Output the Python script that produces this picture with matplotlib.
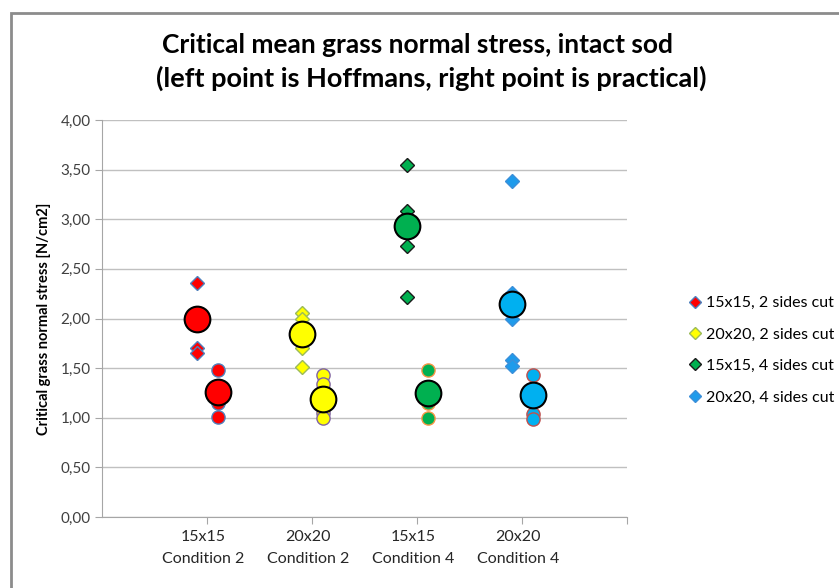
import matplotlib
matplotlib.use("Agg")
import matplotlib.pyplot as plt
from matplotlib.lines import Line2D
from matplotlib.patches import Rectangle
from matplotlib.ticker import FuncFormatter, MultipleLocator

plt.rcParams['font.family'] = ['Lato', 'DejaVu Sans']

# ---- data ----
categories = ["15x15\nCondition 2", "20x20\nCondition 2", "15x15\nCondition 4", "20x20\nCondition 4"]
category_x = [1, 2, 3, 4]
series_labels = ["15x15, 2 sides cut", "20x20, 2 sides cut", "15x15, 4 sides cut", "20x20, 4 sides cut"]

hoffmans_points = [
    [2.36, 1.70, 1.65],
    [2.06, 2.00, 1.70, 1.51],
    [3.55, 3.08, 2.73, 2.22],
    [3.39, 2.26, 2.00, 1.58, 1.52],
]
hoffmans_mean = [1.99, 1.84, 2.93, 2.15]
practical_points = [
    [1.48, 1.15, 1.01],
    [1.43, 1.34, 1.05, 1.00],
    [1.48, 1.15, 1.00],
    [1.43, 1.04, 0.99],
]
practical_mean = [1.26, 1.19, 1.25, 1.23]

# ---- styles ----
face_colors = ["#FF0000", "#FFFF00", "#00B050", "#00B0F0"]
diamond_faces = ["#FF0000", "#FFFF00", "#00B050", "#1E9BEB"]
diamond_edges = ["#4F81BD", "#9BBB59", "#1A1A1A", "#3B8FD9"]
circle_edges = ["#4F81BD", "#8064A2", "#F79646", "#C0504D"]
offset = 0.1

fig = plt.figure(figsize=(8.39, 5.88), dpi=100)
ax = fig.add_axes([102/839, 1-517/588, (627-102)/839, (517-120)/588])

for i, cx in enumerate(category_x):
    hx = cx - offset
    px = cx + offset
    ax.plot([hx]*len(hoffmans_points[i]), hoffmans_points[i], linestyle='none', marker='D',
            markersize=7.3, markerfacecolor=diamond_faces[i], markeredgecolor=diamond_edges[i],
            markeredgewidth=1.0, zorder=3)
    ax.plot([px]*len(practical_points[i]), practical_points[i], linestyle='none', marker='o',
            markersize=9.5, markerfacecolor=face_colors[i], markeredgecolor=circle_edges[i],
            markeredgewidth=1.0, zorder=3)
    ax.plot([hx], [hoffmans_mean[i]], linestyle='none', marker='o', markersize=18.5,
            markerfacecolor=face_colors[i], markeredgecolor='black', markeredgewidth=1.5, zorder=4)
    ax.plot([px], [practical_mean[i]], linestyle='none', marker='o', markersize=18.5,
            markerfacecolor=face_colors[i], markeredgecolor='black', markeredgewidth=1.5, zorder=4)

ax.set_xlim(0, 5)
ax.set_ylim(0, 4)
ax.yaxis.set_major_locator(MultipleLocator(0.5))
ax.yaxis.set_major_formatter(FuncFormatter(lambda v, p: f"{v:.2f}".replace('.', ',')))
ax.set_xticks([1, 2, 3, 4, 5])
ax.set_xticklabels([])
for cx, lab in zip(category_x, categories):
    ax.text(cx - 0.04, -0.13, lab, ha='center', va='top', fontsize=11.5, color='#262626',
            linespacing=1.75, transform=ax.transData)

ax.grid(axis='y', color='#C0C0C0', linewidth=1.0, zorder=0)
ax.set_axisbelow(True)
for s in ['top', 'right']:
    ax.spines[s].set_visible(False)
ax.spines['left'].set_color('#A6A6A6')
ax.spines['bottom'].set_color('#A6A6A6')
ax.tick_params(axis='y', length=5, color='#A6A6A6', labelsize=11, labelcolor='#404040', pad=3)
ax.tick_params(axis='x', length=5, color='#A6A6A6', direction='out')

ax.set_ylabel("Critical grass normal stress [N/cm2]", fontsize=10.5, fontweight='bold', labelpad=7)

fig.text(418/839, 1-45/588, "Critical mean grass normal stress, intact sod", ha='center', va='center',
         fontsize=19, fontweight='bold')
fig.text(431/839, 1-78/588, "(left point is Hoffmans, right point is practical)", ha='center', va='center',
         fontsize=19.5, fontweight='bold')

handles = [Line2D([0], [0], linestyle='none', marker='D', markersize=6,
                  markerfacecolor=diamond_faces[i], markeredgecolor=diamond_edges[i], markeredgewidth=1.0)
           for i in range(4)]
fig.legend(handles, series_labels, loc='upper left', bbox_to_anchor=(689/839, 1-296/588),
           frameon=False, fontsize=11.5, handlelength=0.8, handletextpad=0.25, labelspacing=1.08,
           borderpad=0, borderaxespad=0)

fig.patches.append(Rectangle((11/839, -0.2), 1.5, 1.2 + (1-13/588) - 1 + 0.0, transform=fig.transFigure,
                             fill=False, edgecolor='#8C8C8C', linewidth=2, zorder=0))

fig.savefig("out.png", dpi=100)
